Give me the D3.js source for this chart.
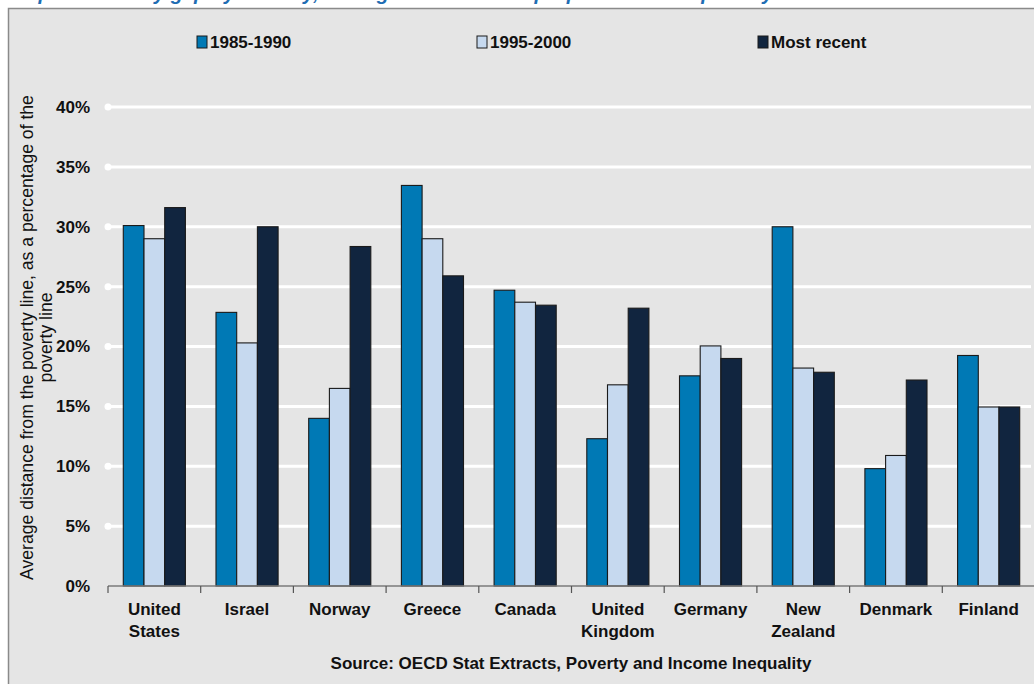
<!DOCTYPE html>
<html>
<head>
<meta charset="utf-8">
<script src="https://cdn.jsdelivr.net/npm/d3@7"></script>
<style>
  html, body { margin: 0; padding: 0; background: #fff; overflow: hidden; }
  svg { display: block; font-family: 'Liberation Sans Narrow', 'Arial Narrow', 'Liberation Sans', sans-serif; }
</style>
</head>
<body>
<div id="chart"></div>
<script>
const countries = [
  ['United', 'States'], ['Israel'], ['Norway'], ['Greece'], ['Canada'],
  ['United', 'Kingdom'], ['Germany'], ['New', 'Zealand'], ['Denmark'], ['Finland']
];
const seriesNames = ['1985-1990', '1995-2000', 'Most recent'];
const v1985 = [30.1, 22.85, 14.0, 33.45, 24.7, 12.3, 17.55, 30.0, 9.8, 19.25];
const v1995 = [29.0, 20.3, 16.5, 29.0, 23.7, 16.8, 20.05, 18.2, 10.9, 14.95];
const vRecent = [31.6, 30.0, 28.35, 25.9, 23.45, 23.2, 19.0, 17.85, 17.2, 14.95];
const yTicks = [0, 5, 10, 15, 20, 25, 30, 35, 40];
const colors = ['#0079b5', '#c6d9ef', '#11253f'];

const W = 1034, H = 684;
const svg = d3.select('#chart').append('svg')
  .attr('width', W)
  .attr('height', H);

// title strip, cut off by the top edge as in the source image
svg.append('text')
  .attr('x', 4)
  .attr('y', 0)
  .attr('fill', '#1f6db3')
  .attr('font-family', 'Liberation Sans, sans-serif')
  .attr('font-style', 'italic')
  .attr('font-weight', 'bold')
  .attr('font-size', 20)
  .text('Graph 3: Poverty gap by country, average shortfall as a proportion of the poverty line');

// frame
svg.append('rect')
  .attr('x', 8.5).attr('y', 8.5)
  .attr('width', W + 10).attr('height', H + 10)
  .attr('fill', '#e5e5e5')
  .attr('stroke', '#8a8a8a')
  .attr('stroke-width', 1.5);

const plotL = 108, plotR = 1035, plotT = 107, plotB = 586;
const names = countries.map(c => c.join(' '));

const x = d3.scaleBand().domain(names).range([plotL, plotR]).padding(0);
const y = d3.scaleLinear().domain([0, 40]).range([plotB, plotT]);

// gridlines
const grid = svg.append('g');
yTicks.filter(t => t > 0).forEach(t => {
  grid.append('line')
    .attr('x1', plotL).attr('x2', 1031)
    .attr('y1', y(t)).attr('y2', y(t))
    .attr('stroke', '#fff')
    .attr('stroke-width', 3);
  grid.append('circle')
    .attr('cx', plotL).attr('cy', y(t)).attr('r', 3.5)
    .attr('fill', '#fff');
});

// y tick labels
svg.append('g')
  .selectAll('text')
  .data(yTicks)
  .join('text')
  .attr('x', 90)
  .attr('y', d => y(d))
  .attr('dy', '0.35em')
  .attr('text-anchor', 'end')
  .attr('font-size', 17)
  .attr('font-weight', 'bold')
  .attr('fill', '#111')
  .text(d => d + '%');

// bars
const groupW = x.bandwidth() * 0.67;
const x1 = d3.scaleBand().domain(seriesNames).range([0, groupW]).padding(0);
const allSeries = [v1985, v1995, vRecent];

names.forEach((n, i) => {
  const g = svg.append('g')
    .attr('transform', `translate(${x(n) + (x.bandwidth() - groupW) / 2},0)`);
  seriesNames.forEach((s, j) => {
    const val = allSeries[j][i];
    g.append('rect')
      .attr('x', x1(s))
      .attr('y', y(val))
      .attr('width', x1.bandwidth())
      .attr('height', y(0) - y(val))
      .attr('fill', colors[j])
      .attr('stroke', '#1a1a1a')
      .attr('stroke-width', 1.1);
  });
});

// x axis
const xAxis = svg.append('g').attr('transform', `translate(0,${plotB})`);
xAxis.append('line')
  .attr('x1', plotL).attr('x2', plotR)
  .attr('stroke', '#7a7a7a').attr('stroke-width', 1.5);
names.forEach(n => {
  xAxis.append('line')
    .attr('x1', x(n)).attr('x2', x(n))
    .attr('y1', 0).attr('y2', 7)
    .attr('stroke', '#555').attr('stroke-width', 1.2);
});

countries.forEach((c, i) => {
  const t = svg.append('text')
    .attr('x', x(names[i]) + x.bandwidth() / 2)
    .attr('y', 615)
    .attr('text-anchor', 'middle')
    .attr('font-size', 17)
    .attr('font-weight', 'bold')
    .attr('fill', '#111');
  c.forEach((line, k) => {
    t.append('tspan')
      .attr('x', x(names[i]) + x.bandwidth() / 2)
      .attr('dy', k === 0 ? 0 : 22)
      .text(line);
  });
});

// y axis title
const yLab = svg.append('text')
  .attr('transform', `translate(27,${(95 + 580) / 2}) rotate(-90)`)
  .attr('text-anchor', 'middle')
  .attr('font-family', 'Liberation Sans, sans-serif')
  .attr('font-size', 17.6)
  .attr('fill', '#111');
yLab.append('tspan').attr('x', 0).attr('dy', '0.35em')
  .text('Average distance from the poverty line, as a percentage of the');
yLab.append('tspan').attr('x', 0).attr('dy', 19).text('poverty line');

// legend
const legX = [197, 477, 758];
seriesNames.forEach((s, j) => {
  svg.append('rect')
    .attr('x', legX[j]).attr('y', 36)
    .attr('width', 10).attr('height', 12)
    .attr('fill', colors[j])
    .attr('stroke', '#1a1a1a').attr('stroke-width', 1);
  svg.append('text')
    .attr('x', legX[j] + 13).attr('y', 42)
    .attr('dy', '0.35em')
    .attr('font-size', 17)
    .attr('font-weight', 'bold')
    .attr('fill', '#111')
    .text(s);
});

// source
svg.append('text')
  .attr('x', 571).attr('y', 663)
  .attr('dy', '0.35em')
  .attr('text-anchor', 'middle')
  .attr('font-size', 17)
  .attr('font-weight', 'bold')
  .attr('fill', '#111')
  .text('Source: OECD Stat Extracts, Poverty and Income Inequality');
</script>
</body>
</html>
